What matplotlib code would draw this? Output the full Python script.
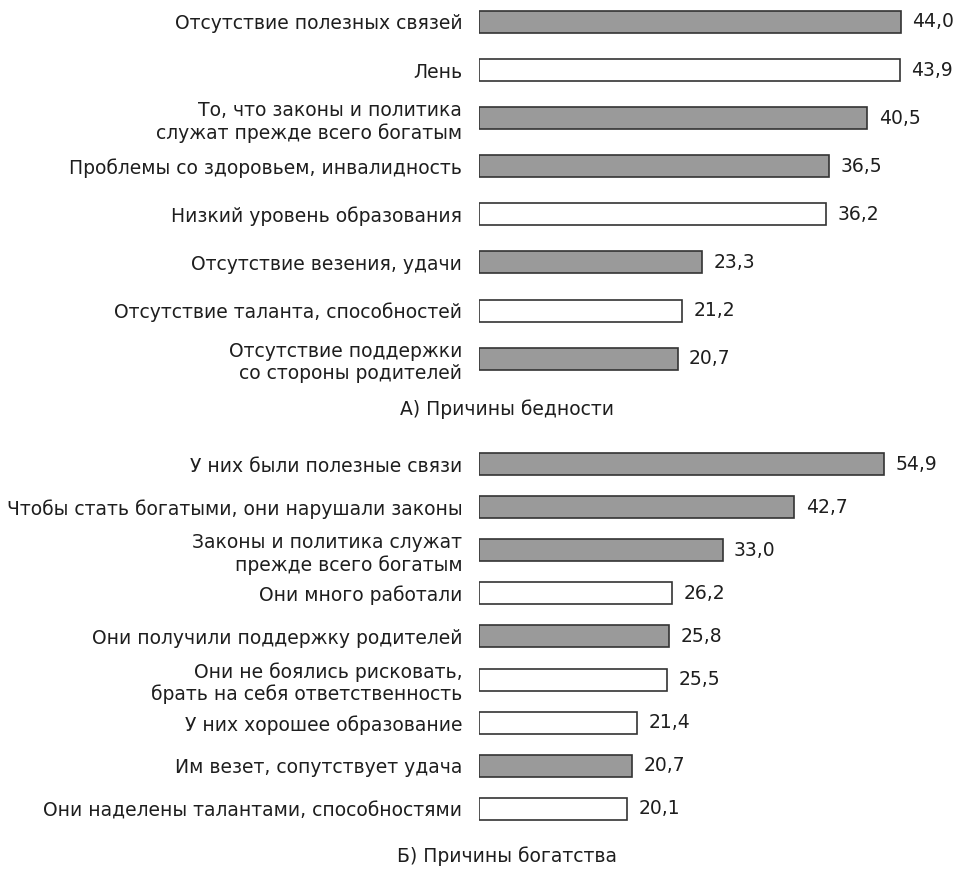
import matplotlib
matplotlib.use("Agg")
import matplotlib.pyplot as plt
import numpy as np

plt.rcParams['font.family'] = ['DejaVu Sans']

# А) Причины бедности
poverty_labels = [
    "Отсутствие полезных связей",
    "Лень",
    "То, что законы и политика\nслужат прежде всего богатым",
    "Проблемы со здоровьем, инвалидность",
    "Низкий уровень образования",
    "Отсутствие везения, удачи",
    "Отсутствие таланта, способностей",
    "Отсутствие поддержки\nсо стороны родителей",
]
poverty_values = [44.0, 43.9, 40.5, 36.5, 36.2, 23.3, 21.2, 20.7]
poverty_filled = [True, False, True, True, False, True, False, True]

# Б) Причины богатства
wealth_labels = [
    "У них были полезные связи",
    "Чтобы стать богатыми, они нарушали законы",
    "Законы и политика служат\nпрежде всего богатым",
    "Они много работали",
    "Они получили поддержку родителей",
    "Они не боялись рисковать,\nбрать на себя ответственность",
    "У них хорошее образование",
    "Им везет, сопутствует удача",
    "Они наделены талантами, способностями",
]
wealth_values = [54.9, 42.7, 33.0, 26.2, 25.8, 25.5, 21.4, 20.7, 20.1]
wealth_filled = [True, True, True, False, True, False, False, True, False]

W, H = 956, 875
fig = plt.figure(figsize=(W / 100, H / 100), dpi=100)

text_color = "#1e1e1e"
fs = 13.5


def panel(rect, labels, values, filled, xmax, ylim, bar_h):
    ax = fig.add_axes(rect)
    y = np.arange(len(values))
    colors = ["#9a9a9a" if f else "white" for f in filled]
    ax.barh(y, values, height=bar_h, color=colors, edgecolor="#333333", linewidth=1.2)
    for yi, v in zip(y, values):
        ax.text(v + xmax * 0.024, yi, f"{v:.1f}".replace(".", ","),
                va="center", ha="left", fontsize=fs, color=text_color)
    ax.set_yticks(y)
    ax.set_yticklabels(labels, fontsize=fs, color=text_color, ha="right",
                       linespacing=1.2)
    ax.tick_params(axis="y", length=0, pad=12)
    ax.set_xlim(0, xmax)
    ax.set_ylim(*ylim)
    ax.set_xticks([])
    for s in ax.spines.values():
        s.set_visible(False)
    return ax


left = 479 / W
width = 477 / W

# top panel spans pixel rows 0..400
panel([left, 1 - 400 / H, width, 400 / H], poverty_labels, poverty_values,
      poverty_filled, 477 / 9.59, (7.86, -0.457), 22 / 48.1)
# bottom panel spans pixel rows 430..830
panel([left, 1 - 830 / H, width, 400 / H], wealth_labels, wealth_values,
      wealth_filled, 477 / 7.38, (8.49, -0.789), 22 / 43.1)

fig.text(507 / W, 1 - 409 / H, "А) Причины бедности", ha="center", va="center",
         fontsize=fs, color=text_color)
fig.text(507 / W, 1 - 856 / H, "Б) Причины богатства", ha="center", va="center",
         fontsize=fs, color=text_color)

fig.savefig("out.png", dpi=100)
